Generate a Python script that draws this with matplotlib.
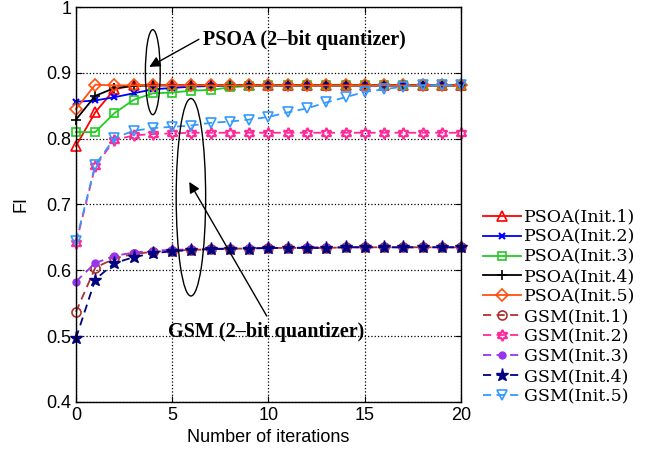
import matplotlib
matplotlib.use('Agg')
import matplotlib.pyplot as plt
from matplotlib.patches import Ellipse

iterations = list(range(21))

psoa_1 = [0.789, 0.840, 0.875, 0.881] + [0.881] * 17
psoa_2 = [0.856, 0.858, 0.863, 0.869, 0.875, 0.877, 0.879, 0.880] + [0.881] * 13
psoa_3 = [0.810, 0.810, 0.839, 0.859, 0.869, 0.870, 0.873, 0.874, 0.878, 0.880] + [0.881] * 11
psoa_4 = [0.829, 0.865, 0.877, 0.880] + [0.881] * 17
psoa_5 = [0.845, 0.882] + [0.881] * 19

gsm_1 = [0.537, 0.604, 0.618, 0.625, 0.628, 0.630, 0.631, 0.632, 0.633, 0.633,
         0.634, 0.634, 0.634, 0.634, 0.635, 0.635, 0.635, 0.635, 0.635, 0.635, 0.635]
gsm_2 = [0.641, 0.758, 0.798, 0.805, 0.807, 0.808] + [0.809] * 15
gsm_3 = [0.583, 0.611, 0.622, 0.627, 0.630, 0.631, 0.632, 0.633, 0.633, 0.634,
         0.634, 0.634, 0.635, 0.635, 0.635, 0.635, 0.635, 0.635, 0.635, 0.635, 0.635]
gsm_4 = [0.497, 0.586, 0.611, 0.620, 0.626, 0.629, 0.631, 0.632, 0.633, 0.633,
         0.634, 0.634, 0.634, 0.634, 0.635, 0.635, 0.635, 0.635, 0.635, 0.635, 0.635]
gsm_5 = [0.644, 0.760, 0.801, 0.812, 0.816, 0.818, 0.820, 0.824, 0.826, 0.829,
         0.833, 0.840, 0.846, 0.855, 0.863, 0.871, 0.875, 0.879, 0.881, 0.881, 0.881]

labels = ['PSOA(Init.1)', 'PSOA(Init.2)', 'PSOA(Init.3)', 'PSOA(Init.4)', 'PSOA(Init.5)',
          'GSM(Init.1)', 'GSM(Init.2)', 'GSM(Init.3)', 'GSM(Init.4)', 'GSM(Init.5)']

fig = plt.figure(figsize=(6.66, 4.61), dpi=100)
ax = fig.add_axes([0.1141, 0.128, 0.5781, 0.8568])

lw = 1.3
dash = (0, (4.5, 3))
ax.plot(iterations, psoa_1, '-', color='#ff0000', lw=lw, marker='^', ms=7, mfc='none', mew=1.2, label=labels[0], clip_on=False)
ax.plot(iterations, psoa_2, '-', color='#0000ff', lw=lw, marker='x', ms=4.5, mew=1.5, label=labels[1], clip_on=False)
ax.plot(iterations, psoa_3, '-', color='#22cc22', lw=lw, marker='s', ms=6, mfc='none', mew=1.2, label=labels[2], clip_on=False)
ax.plot(iterations, psoa_4, '-', color='#000000', lw=lw, marker='+', ms=7, mew=1.2, label=labels[3], clip_on=False)
ax.plot(iterations, psoa_5, '-', color='#ff5010', lw=lw, marker='D', ms=6, mfc='none', mew=1.2, label=labels[4], clip_on=False)

ax.plot(iterations, gsm_1, color='#b03030', ls=dash, lw=lw, marker='o', ms=6.5, mfc='none', mew=1.2, label=labels[5], clip_on=False)
ax.plot(iterations, gsm_2, color='#ff2a9a', ls=dash, lw=lw, marker=(6, 1, 0), ms=8, mfc='none', mew=1.5, label=labels[6], clip_on=False)
ax.plot(iterations, gsm_3, color='#9933ee', ls=dash, lw=lw, marker='o', ms=5, label=labels[7], clip_on=False)
ax.plot(iterations, gsm_4, color='#000080', ls=dash, lw=lw, marker='*', ms=9.5, label=labels[8], clip_on=False)
ax.plot(iterations, gsm_5, color='#3399ff', ls=dash, lw=lw, marker='v', ms=7, mfc='none', mew=1.2, label=labels[9], clip_on=False)

ax.set_xlim(0, 20)
ax.set_ylim(0.4, 1.0)
ax.set_xticks([0, 5, 10, 15, 20])
ax.set_yticks([0.4, 0.5, 0.6, 0.7, 0.8, 0.9, 1.0])
ax.set_yticklabels(['0.4', '0.5', '0.6', '0.7', '0.8', '0.9', '1'])
ax.grid(True, linestyle=':', color='black', linewidth=0.9)
ax.tick_params(direction='in', top=True, right=True, length=4, labelsize=13)
for lab in ax.get_xticklabels() + ax.get_yticklabels():
    lab.set_family('Liberation Sans')
for sp in ax.spines.values():
    sp.set_linewidth(1.0)

ax.set_xlabel('Number of iterations', fontsize=13, family='Liberation Sans')
ax.set_ylabel('FI', fontsize=13, family='Liberation Sans', labelpad=12)

# ellipses and arrows
ax.add_patch(Ellipse((3.99, 0.901), 0.77, 0.129, fill=False, edgecolor='black', lw=1.0, zorder=5))
ax.add_patch(Ellipse((5.97, 0.711), 1.53, 0.30, fill=False, edgecolor='black', lw=1.0, zorder=5))

arrow = dict(arrowstyle='-|>', color='black', lw=1.0, mutation_scale=16)
ax.annotate('', xy=(3.68, 0.907), xytext=(6.51, 0.953), arrowprops=arrow)
ax.annotate('', xy=(5.81, 0.738), xytext=(9.98, 0.527), arrowprops=arrow)

ax.text(6.6, 0.950, 'PSOA (2\u2013bit quantizer)', fontsize=14.5, fontweight='bold',
        family='Liberation Serif', va='center', ha='left')
ax.text(4.76, 0.507, 'GSM (2\u2013bit quantizer)', fontsize=14.5, fontweight='bold',
        family='Liberation Serif', va='center', ha='left')

fig.legend(loc='upper left', bbox_to_anchor=(474 / 666, 1 - 200 / 461),
           frameon=False, prop={'family': 'DejaVu Serif', 'size': 12.5},
           handlelength=2.2, handletextpad=0.2, labelspacing=0.17, borderpad=0)

fig.savefig('out.png', dpi=100)
